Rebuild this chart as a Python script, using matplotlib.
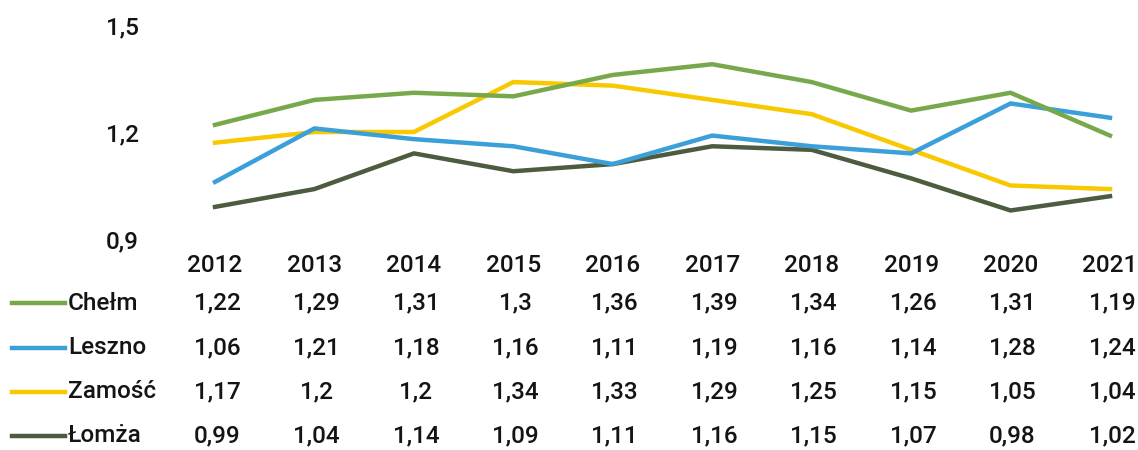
import matplotlib
matplotlib.use('Agg')
import matplotlib.pyplot as plt
from matplotlib.lines import Line2D
from matplotlib.transforms import blended_transform_factory

years = [2012, 2013, 2014, 2015, 2016, 2017, 2018, 2019, 2020, 2021]
cities = ['Chełm', 'Leszno', 'Zamość', 'Łomża']
chelm = [1.22, 1.29, 1.31, 1.3, 1.36, 1.39, 1.34, 1.26, 1.31, 1.19]
leszno = [1.06, 1.21, 1.18, 1.16, 1.11, 1.19, 1.16, 1.14, 1.28, 1.24]
zamosc = [1.17, 1.2, 1.2, 1.34, 1.33, 1.29, 1.25, 1.15, 1.05, 1.04]
lomza = [0.99, 1.04, 1.14, 1.09, 1.11, 1.16, 1.15, 1.07, 0.98, 1.02]
y_ticks = [0.9, 1.2, 1.5]

series = [chelm, leszno, zamosc, lomza]
colors = ['#78a84c', '#3b9fd9', '#f8c800', '#4b5c3f']

plt.rcParams['font.family'] = ['Roboto', 'DejaVu Sans']
plt.rcParams['font.weight'] = 'medium'
text_color = '#141414'
fs = 17.5

W, H = 1138, 450
fig = plt.figure(figsize=(W / 100, H / 100), dpi=100)
# axes placed so that 2012..2021 spans x 215..1110 px and 1.5..0.9 spans y 25..239 px
ax = fig.add_axes([215 / W, (H - 239) / H, (1110 - 215) / W, (239 - 25) / H])
ax.set_xlim(years[0], years[-1])
ax.set_ylim(0.9, 1.5)

# draw order: Łomża at back, Chełm on top
for vals, col in reversed(list(zip(series, colors))):
    ax.plot(years, vals, color=col, lw=3.2, clip_on=False, solid_joinstyle='miter')

for s in ax.spines.values():
    s.set_visible(False)

ax.set_yticks(y_ticks)
ax.set_yticklabels([str(v).replace('.', ',') for v in y_ticks], fontsize=fs, color=text_color)
ax.tick_params(axis='y', length=0, pad=55)
ax.set_xticks(years)
ax.set_xticklabels([str(y) for y in years], fontsize=fs, color=text_color)
ax.tick_params(axis='x', length=0, pad=11)

# data table below the chart
trans = blended_transform_factory(ax.transData, fig.transFigure)
row_y = [303, 348, 392, 436]
for name, vals, col, ypx in zip(cities, series, colors, row_y):
    yf = (H - ypx) / H
    fig.add_artist(Line2D([12 / W, 65 / W], [yf, yf], color=col, lw=3.2,
                          transform=fig.transFigure))
    fig.text(68 / W, yf, name, fontsize=fs, color=text_color, ha='left', va='center')
    for yr, v in zip(years, vals):
        ax.text(yr + 0.02, yf, str(v).replace('.', ','), transform=trans,
                fontsize=fs, color=text_color, ha='center', va='center', clip_on=False)

fig.savefig('out.png', dpi=100)
